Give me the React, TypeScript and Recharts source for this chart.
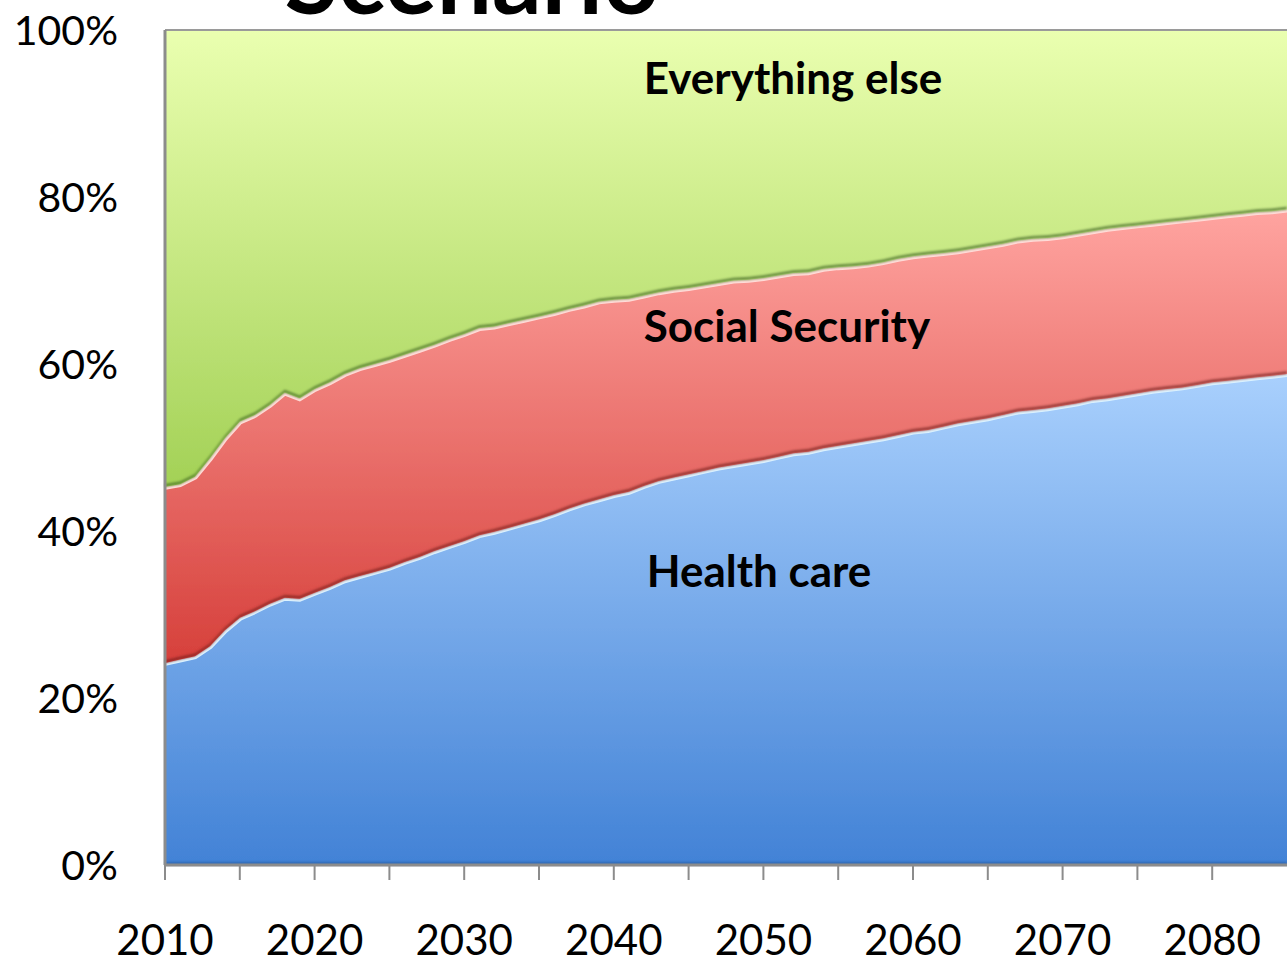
import { AreaChart, Area, XAxis, YAxis, ReferenceDot } from "recharts";

// share of federal spending, %
const years = [
  2010, 2011, 2012, 2013, 2014, 2015, 2016, 2017, 2018, 2019,
  2020, 2021, 2022, 2023, 2024, 2025, 2026, 2027, 2028, 2029,
  2030, 2031, 2032, 2033, 2034, 2035, 2036, 2037, 2038, 2039,
  2040, 2041, 2042, 2043, 2044, 2045, 2046, 2047, 2048, 2049,
  2050, 2051, 2052, 2053, 2054, 2055, 2056, 2057, 2058, 2059,
  2060, 2061, 2062, 2063, 2064, 2065, 2066, 2067, 2068, 2069,
  2070, 2071, 2072, 2073, 2074, 2075, 2076, 2077, 2078, 2079,
  2080, 2081, 2082, 2083, 2084, 2085,
];

const healthCare = [
  24.2, 24.6, 25.0, 26.2, 28.1, 29.6, 30.4, 31.3, 32.0, 31.9,
  32.6, 33.3, 34.1, 34.6, 35.1, 35.6, 36.3, 36.9, 37.6, 38.2,
  38.8, 39.5, 39.9, 40.4, 40.9, 41.4, 42.0, 42.7, 43.3, 43.8,
  44.3, 44.7, 45.4, 46.0, 46.4, 46.8, 47.2, 47.6, 47.9, 48.2,
  48.5, 48.9, 49.3, 49.5, 49.9, 50.2, 50.5, 50.8, 51.1, 51.5,
  51.9, 52.1, 52.5, 52.9, 53.2, 53.5, 53.9, 54.3, 54.5, 54.7,
  55.0, 55.3, 55.7, 55.9, 56.2, 56.5, 56.8, 57.0, 57.2, 57.5,
  57.8, 58.0, 58.2, 58.4, 58.6, 58.8,
];

const socialSecurity = [
  21.1, 21.0, 21.5, 22.5, 23.0, 23.5, 23.5, 23.8, 24.6, 24.0,
  24.4, 24.5, 24.7, 24.9, 24.9, 24.9, 24.8, 24.8, 24.7, 24.8,
  24.8, 24.8, 24.6, 24.5, 24.4, 24.3, 24.1, 23.9, 23.7, 23.7,
  23.4, 23.1, 22.8, 22.6, 22.5, 22.3, 22.2, 22.1, 22.1, 21.9,
  21.8, 21.7, 21.6, 21.5, 21.5, 21.4, 21.2, 21.1, 21.1, 21.1,
  21.0, 21.0, 20.8, 20.6, 20.6, 20.6, 20.5, 20.5, 20.5, 20.4,
  20.3, 20.3, 20.2, 20.3, 20.2, 20.1, 20.0, 20.0, 20.0, 19.9,
  19.8, 19.8, 19.8, 19.8, 19.7, 19.7,
];

const everythingElse = [
  54.7, 54.4, 53.5, 51.3, 48.9, 46.9, 46.1, 44.9, 43.4, 44.1,
  43.0, 42.2, 41.2, 40.5, 40.0, 39.5, 38.9, 38.3, 37.7, 37.0,
  36.4, 35.7, 35.5, 35.1, 34.7, 34.3, 33.9, 33.4, 33.0, 32.5,
  32.3, 32.2, 31.8, 31.4, 31.1, 30.9, 30.6, 30.3, 30.0, 29.9,
  29.7, 29.4, 29.1, 29.0, 28.6, 28.4, 28.3, 28.1, 27.8, 27.4,
  27.1, 26.9, 26.7, 26.5, 26.2, 25.9, 25.6, 25.2, 25.0, 24.9,
  24.7, 24.4, 24.1, 23.8, 23.6, 23.4, 23.2, 23.0, 22.8, 22.6,
  22.4, 22.2, 22.0, 21.8, 21.7, 21.5,
];

const xTicks = [2010, 2015, 2020, 2025, 2030, 2035, 2040, 2045, 2050, 2055, 2060, 2065, 2070, 2075, 2080];
const labelledYears = [2010, 2020, 2030, 2040, 2050, 2060, 2070, 2080];
const yTicks = [0, 20, 40, 60, 80, 100];

const data = years.map((year, i) => ({
  year,
  health: healthCare[i],
  ss: socialSecurity[i],
  other: everythingElse[i],
}));

const FONT = "Lato, 'Open Sans', sans-serif";

const XTick = (props: any) => {
  const { x, y, payload } = props;
  if (!labelledYears.includes(payload.value)) return <g />;
  return (
    <text x={x} y={y} dy={73} textAnchor="middle" fontSize={42} fill="#000" fontFamily={FONT}>
      {payload.value}
    </text>
  );
};

const areaLabel = (text: string) => (props: any) => {
  const { x, y } = props.viewBox;
  return (
    <text x={x} y={y} dominantBaseline="central" fontSize={44} fontWeight={700} fill="#000" fontFamily={FONT}>
      {text}
    </text>
  );
};

// dark strip along the bottom edge of each area (bevel shadow)
const edge = (id: string, dark: string) => (
  <filter id={id} x="-2%" y="-2%" width="104%" height="104%">
    <feOffset in="SourceAlpha" dy={-3} result="up" />
    <feComposite in="SourceAlpha" in2="up" operator="out" result="botEdge" />
    <feGaussianBlur in="botEdge" stdDeviation={0.8} result="botBlur" />
    <feFlood floodColor={dark} floodOpacity={0.9} />
    <feComposite in2="botBlur" operator="in" result="lo" />
    <feMerge>
      <feMergeNode in="SourceGraphic" />
      <feMergeNode in="lo" />
    </feMerge>
  </filter>
);

export default function App() {
  return (
    <div style={{ position: "absolute", left: 0, top: 0, width: 1287, height: 966, background: "#fff" }}>
      <style>{`
        .hc .recharts-area-area { filter: url(#edgeBlue); }
        .sec .recharts-area-area { filter: url(#edgeRed); }
        .else .recharts-area-area { filter: url(#edgeGreen); }
      `}</style>
      <AreaChart width={1287} height={966} data={data} margin={{ top: 30, right: 0, bottom: 0, left: 0 }}>
        <defs>
          <linearGradient id="gBlue" x1="0" y1="0" x2="0" y2="1">
            <stop offset="0%" stopColor="#a9d0fd" />
            <stop offset="100%" stopColor="#4282d6" />
          </linearGradient>
          <linearGradient id="gRed" x1="0" y1="0" x2="0" y2="1">
            <stop offset="0%" stopColor="#ffa4a0" />
            <stop offset="100%" stopColor="#d6403b" />
          </linearGradient>
          <linearGradient id="gGreen" x1="0" y1="0" x2="0" y2="1">
            <stop offset="0%" stopColor="#eaffb0" />
            <stop offset="100%" stopColor="#a3d156" />
          </linearGradient>
          {edge("edgeBlue", "#2f63ad")}
          {edge("edgeRed", "#8a2622")}
          {edge("edgeGreen", "#4c7a2a")}
        </defs>
        <XAxis
          dataKey="year"
          type="number"
          domain={[2010, 2085]}
          ticks={xTicks}
          interval={0}
          height={101}
          tickSize={15}
          axisLine={{ stroke: "#8c8c8c", strokeWidth: 3 }}
          tickLine={{ stroke: "#8c8c8c", strokeWidth: 2 }}
          tick={<XTick />}
        />
        <YAxis
          domain={[0, 100]}
          ticks={yTicks}
          interval={0}
          width={165}
          tickSize={0}
          tickMargin={47}
          tickFormatter={(v: number) => `${v}%`}
          axisLine={{ stroke: "#8c8c8c", strokeWidth: 3 }}
          tickLine={false}
          tick={{ fontSize: 41, fill: "#000", fontFamily: FONT }}
        />
        <Area
          className="hc"
          type="linear"
          dataKey="health"
          stackId="1"
          stroke="#dcf3ff"
          strokeWidth={6}
          fill="url(#gBlue)"
          fillOpacity={1}
          isAnimationActive={false}
        />
        <Area
          className="sec"
          type="linear"
          dataKey="ss"
          stackId="1"
          stroke="#ffdcd9"
          strokeWidth={6}
          fill="url(#gRed)"
          fillOpacity={1}
          isAnimationActive={false}
        />
        <Area
          className="else"
          type="linear"
          dataKey="other"
          stackId="1"
          stroke="#9a9a9a"
          strokeWidth={2}
          fill="url(#gGreen)"
          fillOpacity={1}
          isAnimationActive={false}
        />
        <ReferenceDot x={2042} y={94.4} r={0} stroke="none" label={{ content: areaLabel("Everything else") }} />
        <ReferenceDot x={2042} y={64.7} r={0} stroke="none" label={{ content: areaLabel("Social Security") }} />
        <ReferenceDot x={2042.2} y={35.3} r={0} stroke="none" label={{ content: areaLabel("Health care") }} />
      </AreaChart>
      <svg width={1287} height={40} style={{ position: "absolute", left: 0, top: 0, pointerEvents: "none" }}>
        <text x={472} y={14} textAnchor="middle" fontSize={98} fontWeight={700} fill="#000" fontFamily={FONT}>
          Scenario
        </text>
      </svg>
    </div>
  );
}
